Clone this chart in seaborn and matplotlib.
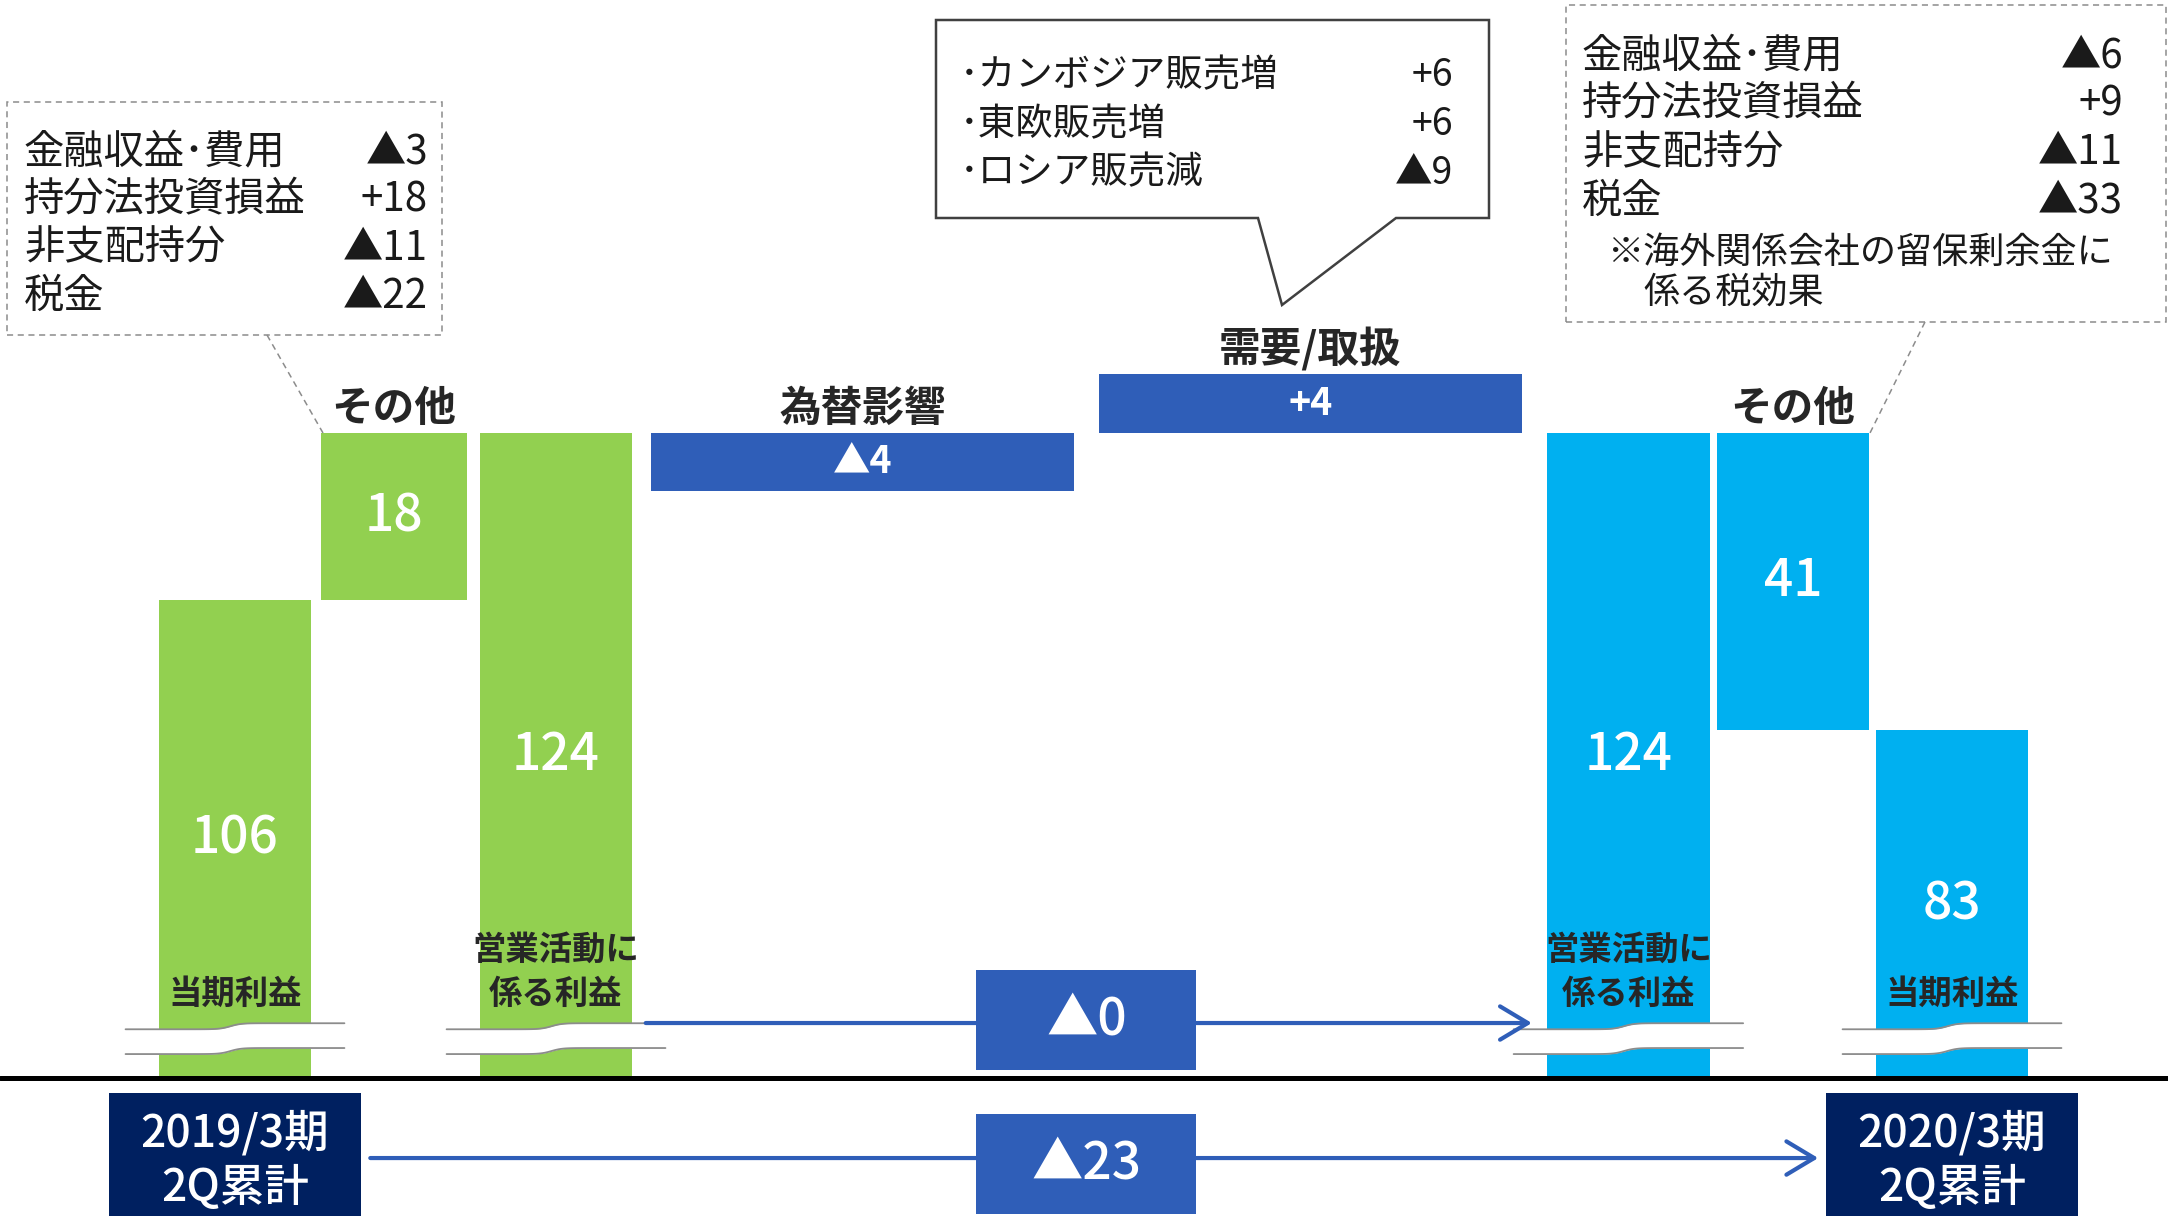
import numpy as np
import matplotlib
matplotlib.use("Agg")
import matplotlib.pyplot as plt
import matplotlib.patches as mpatches
from matplotlib.lines import Line2D
import seaborn as sns

# 当期利益 -> 営業活動に係る利益 (2019) -> 営業活動に係る利益 (2020) -> 当期利益
steps = ['当期利益', 'その他', '営業活動に\n係る利益', '為替影響', '需要/取扱',
         '営業活動に\n係る利益', 'その他', '当期利益']
kinds = ['total', 'delta', 'total', 'driver', 'driver', 'total', 'delta', 'total']
values = [106, 18, 124, -4, 4, 124, -41, 83]
periods = ['2019/3期\n2Q累計', '2020/3期\n2Q累計']

# breakdown of その他 and 需要/取扱
other_items = ['金融収益･費用', '持分法投資損益', '非支配持分', '税金']
other_prev = [-3, 18, -11, -22]
other_curr = [-6, 9, -11, -33]
other_note = ['※海外関係会社の留保剰余金に', '係る税効果']
demand_items = ['･カンボジア販売増', '･東欧販売増', '･ロシア販売減']
demand_values = [6, 6, -9]

GREEN, SKY, BLUE, NAVY, INK = '#92D050', '#00B0F0', '#2F5EB8', '#002060', '#262626'
colors = [GREEN] * 3 + [BLUE] * 2 + [SKY] * 3

sns.set_theme(style='white')
plt.rcParams['font.family'] = ['Noto Sans CJK JP', 'DejaVu Sans']


def signed(v):
    return f'+{v}' if v > 0 else f'▲{abs(v)}'


# waterfall geometry
level = 0
bottoms, heights = [], []
for kind, v in zip(kinds, values):
    if kind == 'total':
        b, h = 0, v
        level = v
    elif kind == 'delta':
        b, h = min(level, level + v), abs(v)
        level += v
    else:  # drivers hang off the 2019 operating level
        b, h = level + min(v, 0), abs(v)
    bottoms.append(b)
    heights.append(h)
bottoms, heights = np.array(bottoms), np.array(heights)
tops = bottoms + heights

# slot layout (bar widths in units)
widths = np.array([1, 0.96, 1, 2.78, 2.78, 1.07, 1, 1])
gaps = np.array([0.066, 0.086, 0.125, 0.167, 0.168, 0.048, 0.046])
lefts = np.concatenate([[0], np.cumsum(widths[:-1] + gaps)])
centers = lefts + widths / 2

W, H = 2168, 1216
fig = plt.figure(figsize=(W / 100, H / 100), dpi=100)
strip = 138 / H
ax = fig.add_axes([0, strip, 1, 1 - strip])
ax2 = fig.add_axes([0, 0, 1, strip], sharex=ax)
ax.set_xlim(-1.046, 13.217)

# schematic scale: distances from the 124 level are compressed, like the slide
PIVOT, P = values[2], 0.7


def fwd(y):
    d = np.asarray(y, float) - PIVOT
    return np.sign(d) * np.abs(d) ** P


def inv(t):
    t = np.asarray(t, float)
    return PIVOT + np.sign(t) * np.abs(t) ** (1 / P)


ax.set_yscale('function', functions=(fwd, inv))
ax.set_ylim(0, 194)
ax.axis('off')
ax2.set_ylim(0, 1)
ax2.axis('off')

ax.bar(lefts, heights, width=widths, bottom=bottoms, align='edge',
       color=colors, linewidth=0, zorder=2)
ax.axhline(0, color='black', lw=3.6, clip_on=False, zorder=6)


def mid_y(b, t):
    p = ax.transData.transform([(0, b), (0, t)])[:, 1].mean()
    return ax.transData.inverted().transform((0, p))[1]


trans = ax.get_xaxis_transform()
for i, (kind, v) in enumerate(zip(kinds, values)):
    if kind == 'total':
        ax.text(centers[i], mid_y(bottoms[i], tops[i]), str(v), ha='center',
                va='center', color='white', fontsize=37, weight='medium', zorder=5)
        ax.text(centers[i], 0.062, steps[i], transform=trans, ha='center',
                va='bottom', fontsize=24, weight='bold', color=INK,
                linespacing=1.45, zorder=5)
        # break marks
        xs = np.linspace(lefts[i] - 0.22, lefts[i] + widths[i] + 0.22, 120)
        wave = 0.0028 * np.tanh((xs - centers[i] + 0.03) / 0.07)
        ax.fill_between(xs, 0.025 + wave, 0.048 + wave, color='white',
                        transform=trans, lw=0, zorder=3)
        for base in (0.025, 0.048):
            ax.plot(xs, base + wave, color='#8c8c8c', lw=1.3,
                    transform=trans, zorder=3)
    else:
        label = str(abs(v)) if kind == 'delta' else signed(v)
        big = kind == 'delta'
        ax.text(centers[i], mid_y(bottoms[i], tops[i]), label, ha='center',
                va='center', color='white', fontsize=37 if big else 27,
                weight='medium' if big else 'bold', zorder=5)
        ax.annotate(steps[i], (centers[i], tops[i]), xytext=(0, 2),
                    textcoords='offset points', ha='center', va='bottom',
                    fontsize=30, weight='bold', color=INK)

# operating profit change arrow
op_change = values[5] - values[2]
x0 = lefts[2] + widths[2] + 0.09
x1 = lefts[5] - 0.1
ax.add_patch(mpatches.FancyArrowPatch((x0, 0.051), (x1, 0.051), transform=trans,
             arrowstyle='->,head_length=1.0,head_width=0.6', mutation_scale=20,
             color=BLUE, lw=3, shrinkA=0, shrinkB=0, zorder=4))
cx = (lefts[3] + widths[3] + lefts[4]) / 2
ax.add_patch(mpatches.Rectangle((cx - 0.725, 0.0074), 1.45, 0.093,
             transform=trans, color=BLUE, lw=0, zorder=5))
ax.text(cx, 0.054, signed(op_change), transform=trans, ha='center', va='center',
        color='white', fontsize=37, weight='medium', zorder=6)

# bottom strip: periods and net profit change
net_change = values[7] - values[0]
for c, per in zip([centers[0], centers[7]], periods):
    ax2.add_patch(mpatches.Rectangle((c - 0.83, 0), 1.66, 0.891, color=NAVY, lw=0))
    ax2.text(c, 0.40, per, ha='center', va='center', color='white',
             fontsize=32, weight='medium', linespacing=1.25)
ax2.add_patch(mpatches.FancyArrowPatch((centers[0] + 0.89, 0.42), (centers[7] - 0.88, 0.42),
              arrowstyle='->,head_length=1.0,head_width=0.6', mutation_scale=20,
              color=BLUE, lw=3, shrinkA=0, shrinkB=0, zorder=3))
ax2.add_patch(mpatches.Rectangle((cx - 0.725, 0.0145), 1.45, 0.725, color=BLUE,
              lw=0, zorder=4))
ax2.text(cx, 0.38, signed(net_change), ha='center', va='center', color='white',
         fontsize=37, weight='medium', zorder=5)


# callouts (figure pixel layout)
def fxy(x, y):
    return x / W, 1 - y / H


def box(x0, y0, x1, y1):
    fig.add_artist(mpatches.Rectangle(fxy(x0, y1), (x1 - x0) / W, (y1 - y0) / H,
                   transform=fig.transFigure, fill=False, ec='#8c8c8c', lw=1.1,
                   ls=(0, (4, 3))))


def leader(p, q):
    (a, b), (c, d) = fxy(*p), fxy(*q)
    fig.add_artist(Line2D([a, c], [b, d], transform=fig.transFigure,
                          color='#8c8c8c', lw=1.1, ls=(0, (4, 3))))


def rows(items, vals, xl, xr, y0, dy, size):
    for k, (name, v) in enumerate(zip(items, vals)):
        y = y0 + k * dy
        fig.text(*fxy(xl, y), name, ha='left', va='center', fontsize=size, color='#1a1a1a')
        fig.text(*fxy(xr, y), signed(v), ha='right', va='center', fontsize=size, color='#1a1a1a')


box(7, 102, 442, 335)
leader((267, 335), (323, 433))
rows(other_items, other_prev, 24, 428, 152, 48, 29)

box(1566, 5, 2166, 322)
leader((1925, 322), (1870, 433))
rows(other_items, other_curr, 1582, 2123, 56, 48.3, 29)
fig.text(*fxy(1607, 253), other_note[0], ha='left', va='center', fontsize=26, color='#1a1a1a')
fig.text(*fxy(1643, 293), other_note[1], ha='left', va='center', fontsize=26, color='#1a1a1a')

bubble = [(936, 20), (1489, 20), (1489, 218), (1396, 218), (1282, 305), (1258, 218), (936, 218)]
fig.add_artist(mpatches.Polygon([fxy(*p) for p in bubble], closed=True,
               transform=fig.transFigure, fc='white', ec='#404040', lw=1.8))
rows(demand_items, demand_values, 960, 1453, 76, 48.5, 27)

fig.savefig('out.png', dpi=100)
